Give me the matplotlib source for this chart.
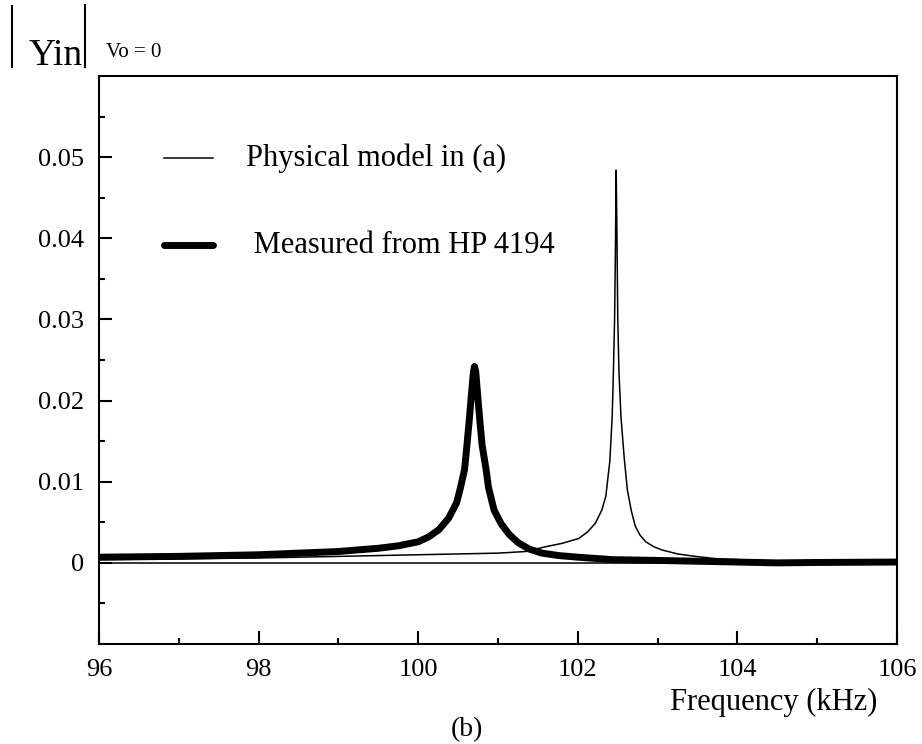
import matplotlib
matplotlib.use('Agg')
from matplotlib import pyplot as plt
from matplotlib.lines import Line2D
from matplotlib.ticker import MultipleLocator, FixedLocator, FuncFormatter

plt.rcParams['font.family'] = ['Liberation Serif', 'DejaVu Serif']

# physical model curve (thin)
model_freq = [96.0, 97.0, 98.0, 99.0, 99.5, 100.0, 100.5, 101.0, 101.35, 101.6, 101.8, 102.01,
              102.12, 102.22, 102.3, 102.35, 102.40, 102.43, 102.445, 102.46, 102.47, 102.48,
              102.49, 102.50, 102.515, 102.54, 102.58, 102.62, 102.67, 102.72, 102.78, 102.85,
              102.95, 103.05, 103.25, 103.47, 103.75, 104.0, 104.5, 105.0, 106.0]
model_y = [0.0004, 0.0005, 0.0006, 0.0008, 0.0009, 0.0010, 0.0011, 0.0012, 0.0014, 0.0020, 0.0024, 0.0030,
           0.0038, 0.0049, 0.0065, 0.0082, 0.0125, 0.0180, 0.0235, 0.0300, 0.0380, 0.0484,
           0.0400, 0.0300, 0.0235, 0.0180, 0.0130, 0.0090, 0.0064, 0.0045, 0.0034, 0.0026,
           0.0020, 0.0016, 0.0011, 0.0008, 0.0005, 0.0004, 0.0002, 0.0001, 0.0001]

# measured curve (thick)
meas_freq = [96.0, 97.0, 98.0, 98.5, 99.0, 99.5, 99.75, 100.0, 100.13, 100.26, 100.38, 100.48,
             100.53, 100.58, 100.61, 100.64, 100.67, 100.69, 100.705, 100.72, 100.74, 100.77,
             100.80, 100.85, 100.88, 100.95, 101.04, 101.14, 101.25, 101.39, 101.55, 101.76,
             102.0, 102.43, 103.0, 103.5, 104.0, 104.5, 105.0, 106.0]
meas_y = [0.0007, 0.0008, 0.0010, 0.0012, 0.0014, 0.0018, 0.0021, 0.0026, 0.0032, 0.0041, 0.0055, 0.0074,
          0.0093, 0.0115, 0.0145, 0.0177, 0.0212, 0.0234, 0.0242, 0.0236, 0.0212, 0.0177,
          0.0145, 0.0115, 0.0093, 0.0065, 0.0048, 0.0035, 0.0025, 0.0017, 0.0012, 0.0009,
          0.0007, 0.0004, 0.0003, 0.0002, 0.0001, 0.0000, 0.00005, 0.0001]

y_major = [0.0, 0.01, 0.02, 0.03, 0.04, 0.05]
y_minor = [-0.005, 0.005, 0.015, 0.025, 0.035, 0.045, 0.055]

fig = plt.figure(figsize=(9.22, 7.44), dpi=100)
ax = fig.add_axes([0.1074, 0.1344, 0.8656, 0.7634])

ax.axhline(0, color='black', lw=1.1)
ax.plot(model_freq, model_y, color='black', lw=1.1)
ax.plot(meas_freq, meas_y, color='black', lw=5, solid_capstyle='round', solid_joinstyle='round')

ax.set_xlim(96, 106)
ax.set_ylim(-0.01, 0.06)
ax.xaxis.set_major_locator(MultipleLocator(2))
ax.xaxis.set_minor_locator(MultipleLocator(1))
ax.yaxis.set_major_locator(FixedLocator(y_major))
ax.yaxis.set_minor_locator(FixedLocator(y_minor))
ax.yaxis.set_major_formatter(FuncFormatter(lambda v, p: '0' if abs(v) < 1e-9 else '%.2f' % v))

for s in ['top', 'right', 'left', 'bottom']:
    ax.spines[s].set_linewidth(1.5)
ax.tick_params(which='both', direction='in', top=False, right=False, width=1.5, labelsize=19, pad=11)
ax.tick_params(which='major', length=9.5)
ax.tick_params(which='minor', length=4.5)

# legend drawn by hand
ax.add_line(Line2D([0.0815, 0.143], [0.8556, 0.8556], transform=ax.transAxes, color='black', lw=1.1))
ax.add_line(Line2D([0.0815, 0.143], [0.7025, 0.7025], transform=ax.transAxes, color='black', lw=5,
                   solid_capstyle='round'))
ax.text(0.184, 0.8556, 'Physical model in (a)', transform=ax.transAxes, fontsize=22, va='center')
ax.text(0.184, 0.7025, ' Measured from HP 4194', transform=ax.transAxes, fontsize=22, va='center')

# y label |Yin| Vo = 0
fig.text(29 / 922, 1 - 65 / 744, 'Yin', fontsize=27, va='baseline', ha='left')
fig.text(106 / 922, 1 - 57 / 744, 'Vo = 0', fontsize=15, va='baseline', ha='left')
fig.add_artist(Line2D([12 / 922, 12 / 922], [1 - 67 / 744, 1 - 6 / 744], transform=fig.transFigure,
                      color='black', lw=1.5))
fig.add_artist(Line2D([85 / 922, 85 / 922], [1 - 67 / 744, 1 - 5 / 744], transform=fig.transFigure,
                      color='black', lw=1.5))

fig.text(877 / 922, 1 - 710 / 744, 'Frequency (kHz)', fontsize=22, va='baseline', ha='right')
fig.text(467 / 922, 2 / 744, '(b)', fontsize=20, va='bottom', ha='center')

plt.savefig('out.png', dpi=100)
